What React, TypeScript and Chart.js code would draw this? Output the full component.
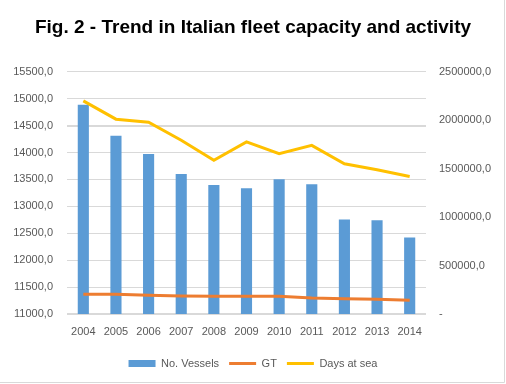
import React, { useEffect, useRef } from "react";
import { Chart, registerables } from "chart.js";

Chart.register(...registerables);

const years = ["2004", "2005", "2006", "2007", "2008", "2009", "2010", "2011", "2012", "2013", "2014"];
const vessels = [14890, 14310, 13975, 13600, 13395, 13335, 13505, 13410, 12755, 12740, 12420];
const gt = [205000, 204000, 193000, 186000, 182000, 182000, 183000, 166000, 157000, 153000, 143000];
const daysAtSea = [2200000, 2011000, 1980000, 1793000, 1586000, 1776000, 1655000, 1741000, 1551000, 1489000, 1420000];

const leftTicks = { min: 11000, max: 15500, step: 500 };
const rightTicks = { min: 0, max: 2500000, step: 500000 };

const FONT = "'Liberation Sans', Arial, sans-serif";
const GREY = "#595959";

const borderPlugin = {
  id: "outerBorder",
  afterDraw(chart: any) {
    const ctx = chart.ctx;
    ctx.save();
    ctx.strokeStyle = "#D9D9D9";
    ctx.lineWidth = 1;
    ctx.beginPath();
    ctx.moveTo(504.5, 0);
    ctx.lineTo(504.5, 382.5);
    ctx.lineTo(0, 382.5);
    ctx.stroke();
    ctx.restore();
  },
};

function fmt(v: number) {
  return v.toFixed(1).replace(".", ",");
}

export default function App() {
  const ref = useRef<HTMLCanvasElement | null>(null);
  useEffect(() => {
    document.body.style.margin = "0";
    const chart = new Chart(ref.current!, {
      type: "bar",
      data: {
        labels: years,
        datasets: [
          {
            type: "line",
            label: "Days at sea",
            data: daysAtSea,
            yAxisID: "y1",
            borderColor: "#FFC000",
            backgroundColor: "#FFC000",
            borderWidth: 3,
            pointRadius: 0,
            tension: 0,
            order: 1,
          },
          {
            type: "line",
            label: "GT",
            data: gt,
            yAxisID: "y1",
            borderColor: "#ED7D31",
            backgroundColor: "#ED7D31",
            borderWidth: 3,
            pointRadius: 0,
            tension: 0,
            order: 2,
          },
          {
            type: "bar",
            label: "No. Vessels",
            data: vessels,
            yAxisID: "y",
            backgroundColor: "#5B9BD5",
            barPercentage: 0.55,
            categoryPercentage: 0.62,
            order: 3,
          },
        ] as any,
      },
      options: {
        animation: false,
        responsive: false,
        layout: { padding: { bottom: 5 } },
        plugins: {
          title: {
            display: true,
            text: "Fig. 2 - Trend in Italian fleet capacity and activity",
            color: "#000000",
            font: { family: FONT, size: 19, weight: "bold" },
            padding: { top: 16, bottom: 33 },
          },
          legend: {
            position: "bottom",
            labels: {
              color: GREY,
              font: { family: FONT, size: 11 },
              usePointStyle: true,
              pointStyleWidth: 27,
              boxHeight: 7,
              padding: 10,
              generateLabels(chart: any) {
                const items = Chart.defaults.plugins.legend.labels.generateLabels(chart);
                const orderMap: Record<string, number> = { "No. Vessels": 0, GT: 1, "Days at sea": 2 };
                items.forEach((it: any) => {
                  if (it.text === "No. Vessels") {
                    it.pointStyle = "rect";
                    it.lineWidth = 0;
                    it.strokeStyle = "rgba(0,0,0,0)";
                  } else {
                    it.pointStyle = "line";
                    it.lineWidth = 3;
                  }
                });
                items.sort((a: any, b: any) => orderMap[a.text] - orderMap[b.text]);
                return items;
              },
            },
          },
          tooltip: { enabled: false },
        },
        scales: {
          x: {
            grid: { display: false, drawTicks: false },
            border: { display: false },
            ticks: { color: GREY, font: { family: FONT, size: 11 }, padding: 11, maxRotation: 0 },
            afterFit(scale: any) {
              scale.height = 34;
            },
          },
          y: {
            position: "left",
            min: leftTicks.min,
            max: leftTicks.max,
            grid: {
              color: "#D9D9D9",
              drawTicks: false,
              lineWidth: (c: any) => (c.tick && (c.tick.value === 11000 || c.tick.value === 14500) ? 2 : 1),
            },
            border: { display: false },
            ticks: {
              stepSize: leftTicks.step,
              color: GREY,
              font: { family: FONT, size: 11 },
              padding: 14,
              callback: (v: any) => fmt(Number(v)),
            },
            afterFit(scale: any) {
              scale.width = 67;
            },
          },
          y1: {
            position: "right",
            min: rightTicks.min,
            max: rightTicks.max,
            grid: { display: false, drawTicks: false },
            border: { display: false },
            ticks: {
              stepSize: rightTicks.step,
              color: GREY,
              font: { family: FONT, size: 11 },
              padding: 13,
              callback: (v: any) => (Number(v) === 0 ? "-" : fmt(Number(v))),
            },
            afterFit(scale: any) {
              scale.width = 80;
            },
          },
        },
      } as any,
      plugins: [borderPlugin],
    });
    return () => chart.destroy();
  }, []);
  return (
    <div style={{ width: 506, height: 384, background: "#fff" }}>
      <canvas ref={ref} width={506} height={384} style={{ display: "block" }} />
    </div>
  );
}
